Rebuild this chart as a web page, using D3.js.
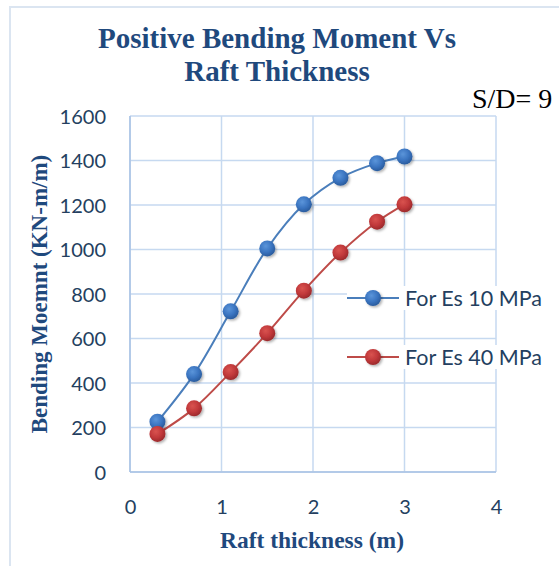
<!DOCTYPE html>
<html>
<head>
<meta charset="utf-8">
<script src="https://cdn.jsdelivr.net/npm/d3@7"></script>
<style>
    body { margin: 0; background: #fff; }
    svg { display: block; }
</style>
</head>
<body>
<div id="chart"></div>
<script>
// data
var thickness = [0.3, 0.7, 1.1, 1.5, 1.9, 2.3, 2.7, 3.0];
var es10 = [226, 440, 722, 1005, 1203, 1322, 1388, 1418];
var es40 = [171, 286, 449, 624, 815, 986, 1125, 1203];
var seriesNames = ['For Es 10 MPa', 'For Es 40 MPa'];
var xTicks = [0, 1, 2, 3, 4];
var yTicks = [0, 200, 400, 600, 800, 1000, 1200, 1400, 1600];

var fullwidth = 559;
var fullheight = 566;
var margin = { top: 116, right: 63, bottom: 94, left: 130 };
var width = fullwidth - margin.left - margin.right;
var height = fullheight - margin.top - margin.bottom;

var navy = '#1f497d';
var tickCol = '#243f60';
var gridCol = '#c6d9f0';

var svg = d3.select('#chart')
    .append('svg')
    .attr('width', fullwidth)
    .attr('height', fullheight);

var defs = svg.append('defs');
function makeGrad(id, light, mid, dark) {
    var g = defs.append('radialGradient')
        .attr('id', id)
        .attr('cx', '40%').attr('cy', '35%').attr('r', '65%');
    g.append('stop').attr('offset', '0%').attr('stop-color', light);
    g.append('stop').attr('offset', '60%').attr('stop-color', mid);
    g.append('stop').attr('offset', '100%').attr('stop-color', dark);
}
makeGrad('gBlue', '#5b95da', '#3a74c0', '#2a5c9e');
makeGrad('gRed', '#d9534f', '#c0383a', '#9c2a2c');
var shadow = defs.append('filter').attr('id', 'shadow')
    .attr('x', '-50%').attr('y', '-50%').attr('width', '200%').attr('height', '200%');
shadow.append('feDropShadow')
    .attr('dx', 1.5).attr('dy', 1.5).attr('stdDeviation', 1.2)
    .attr('flood-color', '#000').attr('flood-opacity', 0.3);

// chart border (left + top)
svg.append('path')
    .attr('d', 'M10,' + fullheight + 'V7H' + fullwidth)
    .attr('fill', 'none')
    .attr('stroke', '#dbe5f1')
    .attr('stroke-width', 2);

var x = d3.scaleLinear().domain([0, 4]).range([0, width]);
var y = d3.scaleLinear().domain([0, 1600]).range([height, 0]);

var g = svg.append('g')
    .attr('transform', 'translate(' + margin.left + ',' + margin.top + ')');

// gridlines
g.selectAll('.hgrid').data(yTicks).enter()
    .append('line')
    .attr('x1', 0).attr('x2', width)
    .attr('y1', function(d) { return y(d); })
    .attr('y2', function(d) { return y(d); })
    .attr('stroke', gridCol).attr('stroke-width', 1.5);
g.selectAll('.vgrid').data(xTicks).enter()
    .append('line')
    .attr('y1', 0).attr('y2', height)
    .attr('x1', function(d) { return x(d); })
    .attr('x2', function(d) { return x(d); })
    .attr('stroke', gridCol).attr('stroke-width', 1.5);

// axis lines
g.append('line').attr('x1', 0).attr('x2', 0).attr('y1', 0).attr('y2', height)
    .attr('stroke', '#a8c2e4').attr('stroke-width', 1.5);
g.append('line').attr('x1', 0).attr('x2', width).attr('y1', height).attr('y2', height)
    .attr('stroke', '#a8c2e4').attr('stroke-width', 1.5);

var yAxis = d3.axisLeft(y).tickValues(yTicks).tickSize(0).tickPadding(24).tickFormat(d3.format('d'));
var xAxis = d3.axisBottom(x).tickValues(xTicks).tickSize(0).tickPadding(28).tickFormat(d3.format('d'));

g.append('g').call(yAxis)
    .call(function(a) { a.select('.domain').remove(); })
    .selectAll('text')
    .attr('dy', '0.35em')
    .style('font-family', 'Lato, "Open Sans", sans-serif')
    .style('font-size', '20px')
    .attr('fill', tickCol);

g.append('g').attr('transform', 'translate(0,' + height + ')').call(xAxis)
    .call(function(a) { a.select('.domain').remove(); })
    .selectAll('text')
    .style('font-family', 'Lato, "Open Sans", sans-serif')
    .style('font-size', '20px')
    .attr('fill', tickCol);

// series
var series = [
    { name: seriesNames[0], values: es10, line: '#4a7ebb', grad: 'url(#gBlue)' },
    { name: seriesNames[1], values: es40, line: '#be4b48', grad: 'url(#gRed)' }
];

var line = d3.line()
    .x(function(d) { return x(d[0]); })
    .y(function(d) { return y(d[1]); })
    .curve(d3.curveCatmullRom.alpha(0.5));

series.forEach(function(s) {
    var pts = thickness.map(function(t, i) { return [t, s.values[i]]; });
    g.append('path')
        .datum(pts)
        .attr('d', line)
        .attr('fill', 'none')
        .attr('stroke', s.line)
        .attr('stroke-width', 2);
});
series.forEach(function(s) {
    var pts = thickness.map(function(t, i) { return [t, s.values[i]]; });
    g.selectAll(null).data(pts).enter()
        .append('circle')
        .attr('cx', function(d) { return x(d[0]); })
        .attr('cy', function(d) { return y(d[1]); })
        .attr('r', 8)
        .attr('fill', s.grad)
        .attr('filter', 'url(#shadow)');
});

// legend
var legend = svg.append('g').attr('transform', 'translate(347,298)');
series.forEach(function(s, i) {
    var row = legend.append('g').attr('transform', 'translate(0,' + (i * 59) + ')');
    row.append('rect').attr('x', 0).attr('y', -12).attr('width', 230).attr('height', 24).attr('fill', '#fff');
    row.append('line').attr('x1', 0).attr('x2', 52).attr('y1', 0).attr('y2', 0)
        .attr('stroke', s.line).attr('stroke-width', 2);
    row.append('circle').attr('cx', 26).attr('cy', 0).attr('r', 8)
        .attr('fill', s.grad).attr('filter', 'url(#shadow)');
    row.append('text').attr('x', 58).attr('y', 0).attr('dy', '0.35em')
        .style('font-family', 'Lato, "Open Sans", sans-serif')
        .style('font-size', '21.5px')
        .attr('fill', tickCol)
        .text(s.name);
});

// titles
var title = svg.append('text')
    .attr('text-anchor', 'middle')
    .style('font-family', '"Liberation Serif", "Times New Roman", serif')
    .style('font-weight', 'bold')
    .style('font-size', '29px')
    .attr('fill', navy);
title.append('tspan').attr('x', 277).attr('y', 48).text('Positive Bending Moment Vs');
title.append('tspan').attr('x', 277).attr('y', 81).text('Raft Thickness');

svg.append('text')
    .attr('x', 472).attr('y', 108)
    .style('font-family', '"Liberation Serif", "Times New Roman", serif')
    .style('font-size', '28px')
    .attr('fill', '#000')
    .text('S/D= 9');

svg.append('text')
    .attr('transform', 'translate(47,294) rotate(-90)')
    .attr('text-anchor', 'middle')
    .style('font-family', '"Liberation Serif", "Times New Roman", serif')
    .style('font-weight', 'bold')
    .style('font-size', '23px')
    .attr('fill', navy)
    .text('Bending Moemnt (KN-m/m)');

svg.append('text')
    .attr('x', 312).attr('y', 548)
    .attr('text-anchor', 'middle')
    .style('font-family', '"Liberation Serif", "Times New Roman", serif')
    .style('font-weight', 'bold')
    .style('font-size', '23.5px')
    .attr('fill', navy)
    .text('Raft thickness (m)');
</script>
</body>
</html>
